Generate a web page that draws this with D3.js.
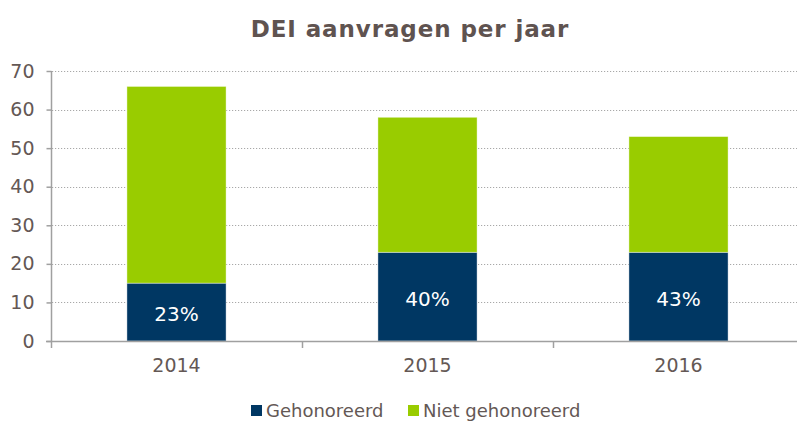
<!DOCTYPE html>
<html>
<head>
<meta charset="utf-8">
<script src="https://cdn.jsdelivr.net/npm/d3@7"></script>
<style>
    html, body { margin: 0; padding: 0; background: #fff; }
    svg { display: block; font-family: 'DejaVu Sans', Verdana, sans-serif; }
</style>
</head>
<body>
<div id="chart"></div>
<script>
// Data
var years = ['2014', '2015', '2016'];
var gehonoreerd = [15, 23, 23];
var nietGehonoreerd = [51, 35, 30];
var percentLabels = ['23%', '40%', '43%'];
var yTicks = [0, 10, 20, 30, 40, 50, 60, 70];
var seriesNames = ['Gehonoreerd', 'Niet gehonoreerd'];

// Colors
var colors = ['#003763', '#99cc00'];
var textColor = '#645855';
var axisColor = '#a0a0a0';
var fontFamily = "'DejaVu Sans', Verdana, sans-serif";

var width = 797, height = 421;
var plotTop = 71, plotBottom = 341;

var svg = d3.select('#chart').append('svg')
    .attr('width', width)
    .attr('height', height);

// Title
svg.append('text')
    .attr('x', 410)
    .attr('y', 37)
    .attr('text-anchor', 'middle')
    .attr('font-size', 23)
    .attr('font-weight', 'bold')
    .attr('letter-spacing', '0.9px')
    .attr('fill', '#5f5350')
    .text('DEI aanvragen per jaar');

// Scales
var x = d3.scaleBand().domain(years).range([51, 804]).padding(0);
var y = d3.scaleLinear().domain([0, 70]).range([plotBottom, plotTop]);
var barWidth = x.bandwidth() * 0.395;

// Gridlines
svg.append('g')
    .selectAll('line')
    .data(yTicks.filter(function (d) { return d > 0; }))
    .enter()
    .append('line')
    .attr('x1', 52)
    .attr('x2', width)
    .attr('y1', function (d) { return Math.round(y(d)) + 0.5; })
    .attr('y2', function (d) { return Math.round(y(d)) + 0.5; })
    .attr('stroke', '#a8a8a8')
    .attr('stroke-width', 1)
    .attr('stroke-dasharray', '1.2,1.8');

// Stacked bars
var rows = years.map(function (yr, i) {
    return { year: yr, gehonoreerd: gehonoreerd[i], niet: nietGehonoreerd[i], label: percentLabels[i] };
});
var stack = d3.stack().keys(['gehonoreerd', 'niet'])(rows);

svg.append('g')
    .selectAll('g')
    .data(stack)
    .enter()
    .append('g')
    .attr('fill', function (d, i) { return colors[i]; })
    .selectAll('rect')
    .data(function (d) { return d; })
    .enter()
    .append('rect')
    .attr('x', function (d) { return x(d.data.year) + (x.bandwidth() - barWidth) / 2; })
    .attr('y', function (d) { return y(d[1]); })
    .attr('width', barWidth)
    .attr('height', function (d) { return y(d[0]) - y(d[1]); })
    .attr('stroke', '#ffffff')
    .attr('stroke-opacity', 0.5)
    .attr('stroke-width', 0.8);

// Percentage labels
svg.append('g')
    .selectAll('text')
    .data(rows)
    .enter()
    .append('text')
    .attr('x', function (d) { return x(d.year) + x.bandwidth() / 2; })
    .attr('y', function (d) { return (y(0) + y(d.gehonoreerd)) / 2 + 9; })
    .attr('text-anchor', 'middle')
    .attr('font-size', 20)
    .attr('fill', '#ffffff')
    .text(function (d) { return d.label; });

// Y axis
var yAxis = d3.axisLeft(y).tickValues(yTicks).tickSize(5).tickPadding(12);
var gy = svg.append('g')
    .attr('transform', 'translate(51.5,0)')
    .call(yAxis);
gy.attr('font-family', fontFamily).attr('font-size', 19);
gy.select('.domain').attr('stroke', axisColor).attr('stroke-width', 1.5).attr('d', 'M0,' + y(70) + 'V' + y(0));
gy.selectAll('.tick line').attr('stroke', axisColor).attr('stroke-width', 1.5);
gy.selectAll('.tick text').attr('fill', textColor);

// X axis
var xAxis = d3.axisBottom(x).tickSize(0).tickPadding(17);
var gx = svg.append('g')
    .attr('transform', 'translate(0,' + (plotBottom + 0.5) + ')')
    .call(xAxis);
gx.attr('font-family', fontFamily).attr('font-size', 19);
gx.select('.domain').attr('stroke', axisColor).attr('stroke-width', 1.5).attr('d', 'M46,0H' + width);
gx.selectAll('.tick text').attr('fill', textColor);

// X axis tick marks at category boundaries
svg.append('g')
    .selectAll('line')
    .data(years)
    .enter()
    .append('line')
    .attr('x1', function (d) { return Math.round(x(d)) + 0.5; })
    .attr('x2', function (d) { return Math.round(x(d)) + 0.5; })
    .attr('y1', plotBottom)
    .attr('y2', plotBottom + 7)
    .attr('stroke', axisColor)
    .attr('stroke-width', 1.5);

// Legend
var legendX = [251, 408];
var legend = svg.append('g')
    .selectAll('g')
    .data(seriesNames)
    .enter()
    .append('g')
    .attr('transform', function (d, i) { return 'translate(' + legendX[i] + ',405)'; });
legend.append('rect')
    .attr('width', 11)
    .attr('height', 11)
    .attr('fill', function (d, i) { return colors[i]; });
legend.append('text')
    .attr('x', 15)
    .attr('y', 11.5)
    .attr('font-size', 18)
    .attr('fill', textColor)
    .text(function (d) { return d; });
</script>
</body>
</html>
